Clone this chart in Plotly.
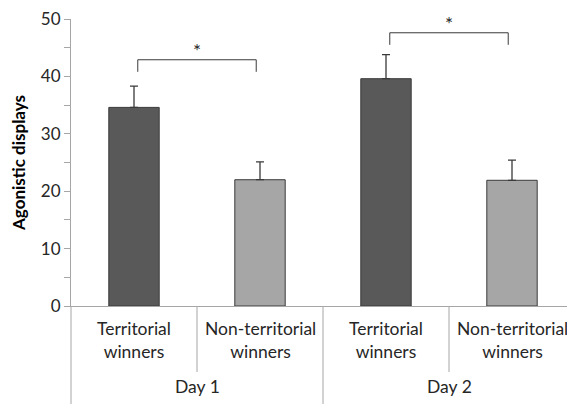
import plotly.graph_objects as go

days = ["Day 1", "Day 2"]
groups = ["Territorial<br>winners", "Non-territorial<br>winners"]
means = [34.6, 22.0, 39.6, 21.9]
errors = [3.7, 3.1, 4.2, 3.5]
bar_colors = ["#595959", "#a6a6a6", "#595959", "#a6a6a6"]
sig_pairs = [(0, 1, 42.9), (2, 3, 47.6)]
y_ticks = [0, 10, 20, 30, 40, 50]

# page body has an 8px margin, so the figure is sized to end at the window edge
W, H = 567, 396
ML, MR, MT, MB = 63, 0, 11, 98
ph = H - MT - MB

xs = list(range(len(means)))
fig = go.Figure()
fig.add_trace(go.Bar(
    x=xs, y=means, width=0.4,
    marker=dict(color=bar_colors, line=dict(color="#3a3a3a", width=1)),
    error_y=dict(type="data", array=errors, arrayminus=[0]*4, symmetric=False,
                 color="#3a3a3a", thickness=1.3, width=4),
    showlegend=False, hoverinfo="skip"))

font = "Lato, Open Sans, sans-serif"
gray = "#a6a6a6"

shapes = []
annotations = []
# y axis extension line down to bottom
shapes.append(dict(type="line", xref="paper", yref="paper", x0=0, x1=0, y0=0, y1=-MB/ph,
                   line=dict(color=gray, width=1)))
# category separators
for i in range(1, len(means)):
    full = (i % 2 == 0)
    shapes.append(dict(type="line", xref="x", yref="paper", x0=i-0.5, x1=i-0.5,
                       y0=0, y1=-(MB if full else 66)/ph, line=dict(color=gray, width=1)))
# category labels
for i in xs:
    annotations.append(dict(x=i, y=0, xref="x", yref="paper", text=groups[i % 2],
                            showarrow=False, yanchor="top", yshift=-10,
                            font=dict(family=font, size=17.5, color="#262626")))
for d, day in enumerate(days):
    annotations.append(dict(x=2*d+0.5, y=0, xref="x", yref="paper", text=day,
                            showarrow=False, yanchor="middle", yshift=-80,
                            font=dict(family=font, size=17.5, color="#262626")))
# significance brackets
for a, b, yb in sig_pairs:
    ya = yb - 2.1
    shapes.append(dict(type="path", xref="x", yref="y",
                       path=f"M {a+0.03},{ya} L {a+0.03},{yb} L {b-0.03},{yb} L {b-0.03},{ya}",
                       line=dict(color="#3a3a3a", width=1)))
    annotations.append(dict(x=(a+b)/2, y=yb, xref="x", yref="y", text="*", showarrow=False,
                            yanchor="bottom", yshift=-4,
                            font=dict(family=font, size=19, color="#262626")))

fig.update_layout(
    width=W, height=H, margin=dict(l=ML, r=MR, t=MT, b=MB, autoexpand=False),
    paper_bgcolor="white", plot_bgcolor="white",
    xaxis=dict(range=[-0.5, 3.5], showticklabels=False, showgrid=False, zeroline=False,
               showline=True, linecolor=gray, linewidth=1, ticks="", automargin=False),
    yaxis=dict(range=[0, 50], tickvals=y_ticks, showgrid=False, zeroline=False, automargin=False,
               showline=True, linecolor=gray, linewidth=1, ticks="outside", ticklen=6,
               ticklabeloverflow="allow",
               tickcolor=gray, minor=dict(dtick=5, ticks="outside", ticklen=6, tickcolor=gray),
               tickfont=dict(family=font, size=17, color="#262626"),
               title=dict(text="<b>Agonistic displays</b>", standoff=14,
                          font=dict(family=font, size=17, color="#000000"))),
    shapes=shapes, annotations=annotations)

fig.write_html("out.html")
